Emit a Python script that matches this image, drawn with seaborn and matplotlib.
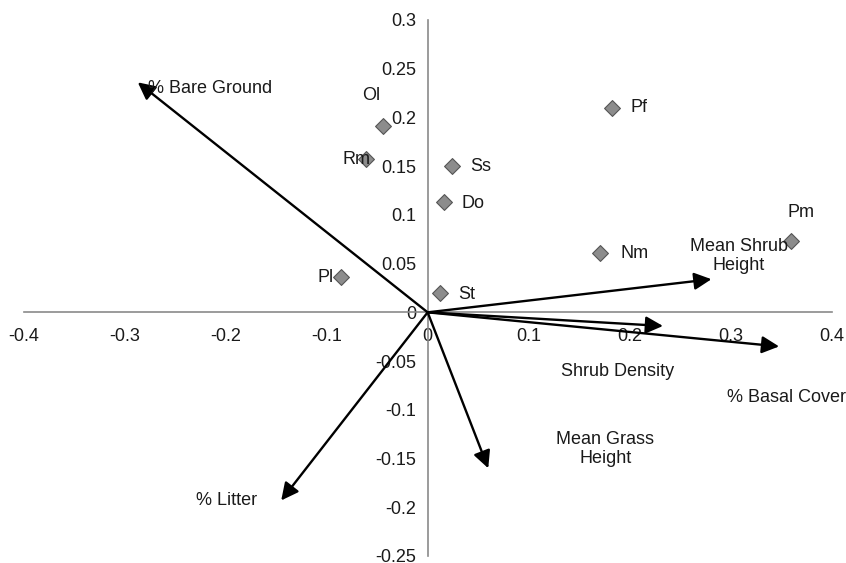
import matplotlib
matplotlib.use("Agg")
import matplotlib.pyplot as plt
import seaborn as sns
import pandas as pd

# species scores (ordination axes 1 and 2)
species = ['Pf', 'Ol', 'Rm', 'Ss', 'Do', 'Pm', 'Nm', 'Pl', 'St']
axis1 = [0.183, -0.044, -0.061, 0.024, 0.016, 0.360, 0.171, -0.086, 0.012]
axis2 = [0.210, 0.191, 0.157, 0.150, 0.113, 0.073, 0.061, 0.036, 0.020]

# environmental vectors
variables = ['% Bare Ground', 'Mean Shrub\nHeight', 'Shrub Density', '% Basal Cover',
             'Mean Grass\nHeight', '% Litter']
vec1 = [-0.287, 0.281, 0.233, 0.348, 0.060, -0.145]
vec2 = [0.236, 0.034, -0.014, -0.035, -0.160, -0.193]

x_ticks = [-0.4, -0.3, -0.2, -0.1, 0, 0.1, 0.2, 0.3, 0.4]
y_ticks = [-0.25, -0.2, -0.15, -0.1, -0.05, 0, 0.05, 0.1, 0.15, 0.2, 0.25, 0.3]

df = pd.DataFrame({'species': species, 'x': axis1, 'y': axis2})

sns.set_style('white')
plt.rcParams['font.family'] = ['Liberation Sans', 'DejaVu Sans']
fs = 13

fig = plt.figure(figsize=(8.46, 5.63), dpi=100)
ax = fig.add_axes([0.028, 0.0125, 0.955, 0.952])

sns.scatterplot(data=df, x='x', y='y', marker='D', s=65, color='#8c8c8c',
                edgecolor='#555555', linewidth=0.8, ax=ax, zorder=3)

# arrows
for v1, v2 in zip(vec1, vec2):
    ax.annotate('', xy=(v1, v2), xytext=(0, 0),
                arrowprops=dict(arrowstyle='-|>', mutation_scale=26, lw=1.7,
                                color='black', shrinkA=0, shrinkB=0))

# species labels
sp_pos = {
    'Pf': (0.201, 0.210, 'left'),
    'Ol': (-0.056, 0.222, 'center'),
    'Rm': (-0.057, 0.157, 'right'),
    'Ss': (0.042, 0.150, 'left'),
    'Do': (0.034, 0.112, 'left'),
    'Pm': (0.370, 0.102, 'center'),
    'Nm': (0.191, 0.060, 'left'),
    'Pl': (-0.093, 0.036, 'right'),
    'St': (0.030, 0.018, 'left'),
}
for name in species:
    px, py, ha = sp_pos[name]
    ax.text(px, py, name, ha=ha, va='center', fontsize=fs, color='#1a1a1a')

# variable labels
var_pos = {
    '% Bare Ground': (-0.277, 0.230, 'left'),
    'Mean Shrub\nHeight': (0.308, 0.058, 'center'),
    'Shrub Density': (0.188, -0.061, 'center'),
    '% Basal Cover': (0.355, -0.087, 'center'),
    'Mean Grass\nHeight': (0.176, -0.140, 'center'),
    '% Litter': (-0.199, -0.193, 'center'),
}
for name in variables:
    px, py, ha = var_pos[name]
    ax.text(px, py, name, ha=ha, va='center', fontsize=fs, color='#1a1a1a',
            multialignment='center', clip_on=False, linespacing=1.15)

ax.set_xlim(-0.4, 0.4)
ax.set_ylim(-0.25, 0.3)
ax.set_xticks(x_ticks)
ax.set_yticks(y_ticks)
ax.set_xticklabels([f'{t:g}' for t in x_ticks])
ax.set_yticklabels([f'{t:g}' for t in y_ticks])
ax.set_xlabel('')
ax.set_ylabel('')

ax.spines['left'].set_position(('data', 0))
ax.spines['bottom'].set_position(('data', 0))
ax.spines['right'].set_visible(False)
ax.spines['top'].set_visible(False)
for s in ['left', 'bottom']:
    ax.spines[s].set_color('#8a8a8a')
    ax.spines[s].set_linewidth(1.2)
    ax.spines[s].set_zorder(1)

ax.tick_params(axis='x', direction='in', length=6, color='#8a8a8a', labelsize=fs,
               labelcolor='#1a1a1a', pad=11)
ax.tick_params(axis='y', direction='out', length=5, color='#8a8a8a', labelsize=fs,
               labelcolor='#1a1a1a', pad=3)
ax.patch.set_alpha(0)

fig.savefig('out.png', dpi=100)
